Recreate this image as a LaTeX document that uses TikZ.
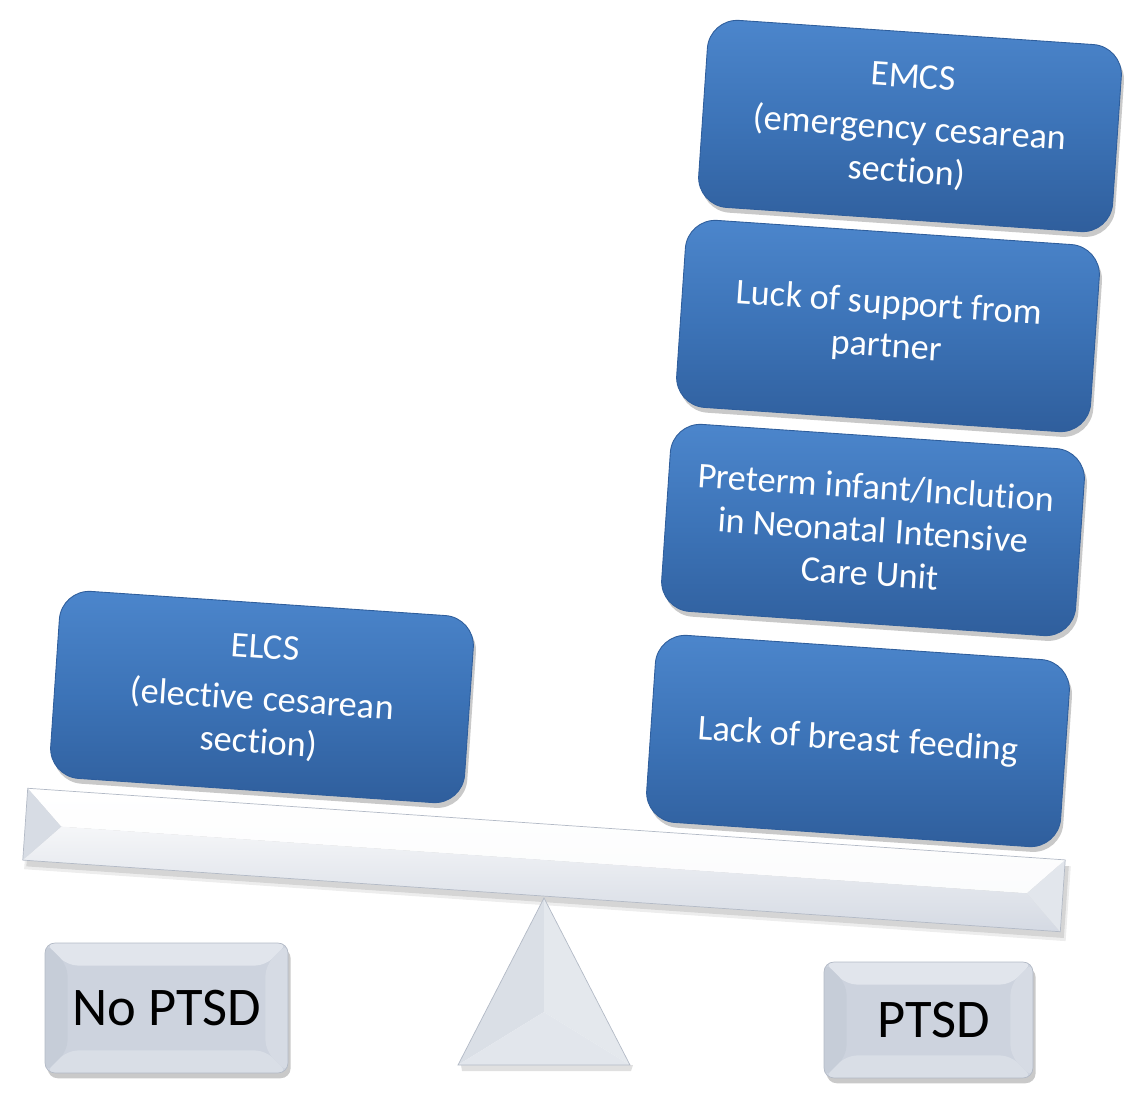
\documentclass[tikz,border=0pt]{standalone}
\usepackage{fontspec}
\setmainfont{Carlito}[Ligatures=NoCommon]
\usetikzlibrary{shadows}
\definecolor{bluetop}{HTML}{4C86CC}
\definecolor{bluemid}{HTML}{3C73B7}
\definecolor{bluebot}{HTML}{2F5E9C}
\definecolor{greyface}{HTML}{CDD3DE}
\definecolor{greytop}{HTML}{E1E5EC}
\definecolor{greyleft}{HTML}{C6CDD8}
\definecolor{greyright}{HTML}{D6DBE4}
\definecolor{greybot}{HTML}{D9DEE6}
\definecolor{greyedge}{HTML}{B3BAC6}
\tikzset{
  bluebox/.style={rounded corners=0.6cm, minimum width=8.3cm, minimum height=3.75cm,
    top color=bluetop, bottom color=bluebot, middle color=bluemid,
    draw=bluebot, line width=0.5pt, text=white, align=center,
    font=\fontsize{20.6}{24.6}\selectfont,
    drop shadow={shadow xshift=1.5pt, shadow yshift=-3pt, opacity=0.3, fill=black!70}},
  greybox/.style={rounded corners=0.2cm, fill=greyface, draw=greyedge, line width=0.4pt,
    font=\fontsize{31}{36}\selectfont, text=black,
    drop shadow={shadow xshift=1.5pt, shadow yshift=-3pt, opacity=0.3, fill=black!70},
    path picture={
      \fill[greytop] (path picture bounding box.north west) -- (path picture bounding box.north east)
        -- ([shift={(-0.45cm,-0.45cm)}]path picture bounding box.north east)
        -- ([shift={(0.45cm,-0.45cm)}]path picture bounding box.north west) -- cycle;
      \fill[greyleft] (path picture bounding box.north west) -- ([shift={(0.45cm,-0.45cm)}]path picture bounding box.north west)
        -- ([shift={(0.45cm,0.45cm)}]path picture bounding box.south west) -- (path picture bounding box.south west) -- cycle;
      \fill[greyright] (path picture bounding box.north east) -- ([shift={(-0.45cm,-0.45cm)}]path picture bounding box.north east)
        -- ([shift={(-0.45cm,0.45cm)}]path picture bounding box.south east) -- (path picture bounding box.south east) -- cycle;
      \fill[greybot] (path picture bounding box.south west) -- ([shift={(0.45cm,0.45cm)}]path picture bounding box.south west)
        -- ([shift={(-0.45cm,0.45cm)}]path picture bounding box.south east) -- (path picture bounding box.south east) -- cycle;
    }},
}
\begin{document}
\begin{tikzpicture}[x=0.02cm, y=-0.02cm]
\useasboundingbox (0,0) rectangle (1133,1104);

% beam
\begin{scope}[shift={(544,860)}, rotate=-3.95]
  \fill[black, opacity=0.10] (-516,-30) -- (524,-30) -- (524,42) -- (-516,42) -- cycle;
  \fill[black, opacity=0.07] (-518,-30) -- (526,-30) -- (526,45) -- (-518,45) -- cycle;
  \shade[top color=white, bottom color=white!92!greyface] (-520,-36) -- (520,-36) -- (484,0) -- (-484,0) -- cycle;
  \shade[top color=white!80!greyface, bottom color=greyface!85!white] (-484,0) -- (484,0) -- (520,36) -- (-520,36) -- cycle;
  \fill[greyleft!70!white] (-520,-36) -- (-484,0) -- (-520,36) -- cycle;
  \fill[greyright!70!white] (520,-36) -- (484,0) -- (520,36) -- cycle;
  \draw[greyedge, line width=0.4pt] (-520,-36) rectangle (520,36);
\end{scope}

% fulcrum
\coordinate (apex) at (544,898);
\coordinate (bl) at (458,1065);
\coordinate (br) at (630,1065);
\coordinate (inc) at (544,1012);
\fill[black, opacity=0.12] (461,1065) -- (633,1065) -- (631,1071) -- (462,1071) -- cycle;
\fill[greyleft!65!white] (apex) -- (inc) -- (bl) -- cycle;
\fill[greyright!65!white] (apex) -- (inc) -- (br) -- cycle;
\fill[greybot!75!white] (bl) -- (inc) -- (br) -- cycle;
\draw[greyedge, line width=0.4pt] (apex) -- (bl) -- (br) -- cycle;

% blue boxes
\node[bluebox, rotate=-3.9] (elcs) at (262,697) {ELCS\\[5pt] (elective cesarean\\ section)};
\node[bluebox, rotate=-3.9] (lack) at (858,741) {Lack of breast feeding};
\node[bluebox, rotate=-3.9] (pret) at (873,530) {Preterm infant/Inclution\\ in Neonatal Intensive\\ Care Unit};
\node[bluebox, rotate=-3.9] (luck) at (888,326) {Luck of support from\\ partner};
\node[bluebox, rotate=-3.9] (emcs) at (910,126) {EMCS\\[5pt] (emergency cesarean\\ section)};

% outcome boxes
\node[greybox, minimum width=4.86cm, minimum height=2.6cm] (noptsd) at (166.5,1008) {No PTSD};
\node[greybox, minimum width=4.18cm, minimum height=2.32cm] (ptsd) at (928.5,1020) {\hspace{6pt}PTSD};
\end{tikzpicture}
\end{document}
